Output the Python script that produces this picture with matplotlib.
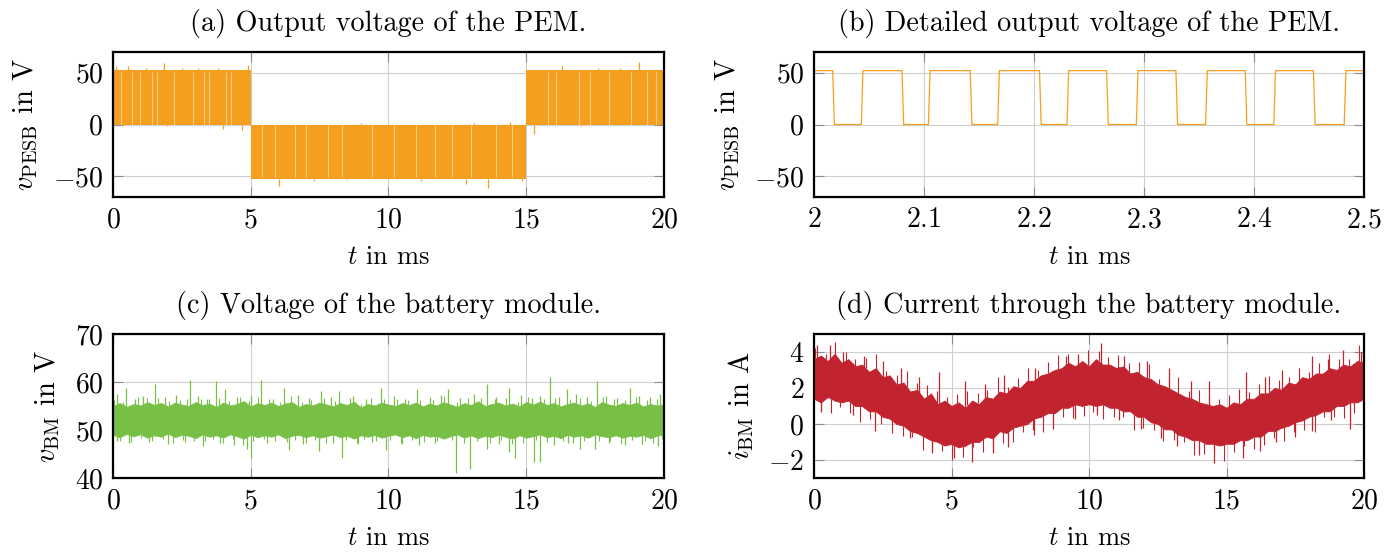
import numpy as np
import matplotlib.pyplot as plt

plt.rcParams['font.family'] = 'serif'
plt.rcParams['font.serif'] = ['cmr10']
plt.rcParams['mathtext.fontset'] = 'cm'
plt.rcParams['font.size'] = 20

ORANGE = '#f59f1f'
GREEN = '#78c045'
RED = '#c1232f'

# (a) output voltage of the PEM, 0..20 ms (polarity blocks)
pem_edges = [0, 5, 15, 20]
pem_level = [52.5, -52.5, 52.5]
pem_peak_t = [0.1, 0.55, 1.2, 1.87, 2.5, 3.1, 3.8, 4.9, 6.04, 7.3, 8.5, 11.2, 12.8, 13.6, 14.85, 16.3, 17.6, 18.4, 19.1]
pem_peak_v = [56.5, 56.0, 54.5, 59.0, 55.0, 54.5, 54.5, 57.0, -59.0, -54.5, -54.0, -54.5, -57.0, -61.0, -55.0, 56.5, 55.0, 54.5, 60.0]
pem_dip_t = [1.95, 3.98, 4.7, 9.0, 13.1, 14.4, 15.3, 17.0]
pem_dip_v = [-1.5, -4.8, -5.7, 1.2, 1.5, 2.5, -9.5, -1.5]
pem_gap_t = [0.3, 0.7, 1.0, 1.4, 1.6, 2.2, 2.9, 3.3, 3.5, 4.1, 4.3, 5.4, 5.9, 6.6, 7.0, 7.8, 8.3,
             9.4, 10.2, 11.0, 11.7, 12.3, 13.0, 13.9, 14.5, 15.8, 16.1, 16.9, 17.3, 18.0, 18.8, 19.4, 19.7]

# (b) detailed output voltage, 2..2.5 ms
det_fall = [2.017, 2.080, 2.142, 2.205, 2.266, 2.329, 2.392, 2.454]
det_rise = [2.043, 2.104, 2.167, 2.230, 2.293, 2.356, 2.418, 2.482]
det_high = 52.0
det_low = 0.0

# (c) battery module voltage: dense band edges (every 0.25 ms), spikes, small hairs
bat_hi = [55.0, 55.6, 54.8, 55.4, 55.1, 55.8, 55.2, 55.6, 54.9,
          55.7, 55.3, 55.0, 55.8, 55.2, 55.5, 54.8, 55.7, 55.1,
          55.4, 56.0, 54.9, 55.6, 55.2, 55.7, 55.0, 55.5, 55.8,
          54.8, 55.4, 55.1, 55.7, 55.3, 54.9, 55.6, 55.2, 55.9,
          54.7, 55.4, 55.1, 55.7, 55.3, 55.0, 55.6, 55.2, 55.7,
          54.9, 55.5, 55.1, 55.8, 55.3, 54.8, 55.6, 55.2, 56.0,
          55.0, 55.4, 55.7, 55.1, 55.5, 54.9, 55.8, 55.3, 55.9,
          55.2, 55.6, 54.9, 55.4, 55.7, 55.1, 55.5, 54.8, 55.8,
          55.3, 55.0, 55.6, 55.2, 55.7, 54.9, 55.4, 55.1, 55.3]
bat_lo = [49.0, 48.5, 49.2, 48.7, 49.1, 48.4, 48.9, 48.6, 49.3,
          48.5, 49.0, 48.8, 48.3, 49.1, 48.6, 48.9, 48.4, 49.1,
          48.7, 48.2, 49.0, 48.5, 48.9, 48.6, 49.1, 48.3, 48.8,
          49.0, 48.5, 48.9, 48.4, 48.7, 49.1, 48.5, 48.8, 48.2,
          48.9, 48.6, 49.0, 48.4, 48.8, 49.1, 48.5, 48.9, 48.3,
          49.0, 48.6, 48.8, 48.2, 48.7, 49.1, 48.4, 48.9, 48.3,
          48.8, 48.5, 49.0, 48.6, 48.2, 48.9, 48.4, 48.7, 49.1,
          48.5, 48.8, 48.3, 49.0, 48.6, 48.9, 48.4, 49.1, 48.7,
          48.5, 48.9, 48.4, 48.8, 48.6, 49.0, 48.3, 48.8, 49.1]
bat_up_t = [0.16, 0.49, 0.8, 1.1, 1.54, 1.9, 2.3, 2.79, 3.1, 3.4, 3.73, 4.06, 4.5, 5.0, 5.39, 5.8, 6.22,
            6.7, 7.1, 7.55, 7.9, 8.2, 8.7, 9.2, 9.74, 10.2, 10.6, 11.04, 11.5, 11.9, 12.18, 12.6, 13.1,
            13.56, 13.9, 14.37, 14.8, 15.2, 15.5, 15.86, 16.2, 16.48, 16.8, 17.2, 17.56, 17.9, 18.3,
            18.75, 19.1, 19.5, 19.85]
bat_up_v = [57.5, 58.7, 56.5, 57.0, 59.6, 56.8, 57.2, 60.4, 57.0, 56.5, 60.2, 58.5, 56.8, 57.0, 60.4,
            56.5, 58.7, 57.3, 56.6, 58.2, 56.9, 58.2, 57.0, 56.4, 58.8, 57.0, 56.5, 58.5, 56.8, 57.2,
            58.5, 56.6, 57.5, 59.6, 56.8, 58.7, 57.3, 56.7, 57.0, 61.1, 56.9, 58.5, 57.5, 56.8, 60.2,
            57.0, 56.6, 58.7, 57.1, 56.8, 57.4]
bat_dn_t = [0.16, 0.6, 1.3, 2.0, 2.6, 3.28, 3.9, 4.4, 4.87, 5.0, 5.6, 6.4, 6.9, 7.47, 8.0, 8.33, 8.9,
            9.4, 9.9, 10.5, 11.1, 11.7, 12.45, 12.95, 13.56, 14.0, 14.37, 14.6, 15.3, 15.5, 16.0, 16.5,
            16.95, 17.5, 18.0, 18.6, 19.2, 19.8]
bat_dn_v = [47.6, 47.2, 47.5, 47.0, 47.4, 46.6, 47.3, 46.9, 46.0, 44.1, 47.2, 45.9, 47.0, 45.7, 47.3,
            44.1, 47.0, 47.4, 45.9, 47.1, 46.8, 47.3, 41.0, 41.9, 46.0, 47.0, 45.4, 44.1, 43.4, 43.4,
            46.8, 47.2, 46.0, 46.0, 47.3, 46.9, 47.1, 46.6]
# (time in ms, excursion beyond the dense band in V)
bat_hairs = [(0.05, 1.2), (0.27, -0.9), (0.38, 0.7), (0.66, -1.4), (0.9, 1.6), (1.02, -0.8),
             (1.22, 0.9), (1.4, -1.1), (1.65, 1.3), (1.8, -0.7), (2.05, 1.0), (2.18, -1.5),
             (2.45, 0.8), (2.55, -1.0), (2.7, 1.4), (2.95, -0.8), (3.2, 1.1), (3.33, -1.3),
             (3.5, 0.9), (3.65, -0.7), (3.85, 1.5), (4.0, -1.2), (4.2, 0.8), (4.35, -0.9),
             (4.6, 1.2), (4.72, -1.4), (4.95, 0.9), (5.1, -1.1), (5.25, 1.3), (5.5, -0.8),
             (5.65, 1.0), (5.9, -1.3), (6.05, 0.7), (6.3, -0.9), (6.45, 1.4), (6.6, -1.0),
             (6.85, 0.8), (7.0, -1.2), (7.2, 1.1), (7.35, -0.8), (7.65, 1.3), (7.75, -1.5),
             (8.05, 0.9), (8.45, -0.9), (8.6, 1.2), (8.85, -1.1), (9.0, 0.8), (9.1, -0.7),
             (9.35, 1.4), (9.55, -1.2), (9.85, 1.0), (10.05, -0.9), (10.3, 1.3), (10.45, -1.3),
             (10.7, 0.9), (10.85, -0.8), (11.15, 1.1), (11.3, -1.4), (11.6, 0.8), (11.75, -1.0),
             (12.0, 1.2), (12.3, -0.9), (12.5, 1.0), (12.75, -1.2), (12.9, 1.4), (13.2, -0.8),
             (13.35, 1.1), (13.7, -1.3), (13.85, 0.9), (14.1, -1.0), (14.25, 1.5), (14.5, -1.2),
             (14.7, 0.8), (14.9, -1.4), (15.05, 1.2), (15.35, -0.9), (15.65, 1.0), (15.75, -1.1),
             (16.05, 1.3), (16.35, -0.8), (16.6, 0.9), (16.7, -1.3), (16.95, 1.4), (17.1, -1.0),
             (17.35, 0.8), (17.65, -1.2), (17.8, 1.1), (18.05, -0.9), (18.2, 1.3), (18.45, -1.4),
             (18.6, 0.9), (18.85, -0.8), (19.0, 1.2), (19.3, -1.1), (19.4, 1.0), (19.6, -1.3),
             (19.75, 1.4), (19.92, -0.9)]

# (d) battery module current: dense band edges (every 0.25 ms), spikes, small hairs
cur_hi = [3.6, 3.8, 3.5, 3.9, 3.4, 3.6, 3.2, 3.3, 2.9,
          3.1, 2.6, 2.7, 2.2, 2.3, 1.8, 1.9, 1.4, 1.7,
          1.1, 1.3, 1.0, 1.2, 0.9, 1.3, 1.1, 1.5, 1.4,
          1.8, 1.7, 2.1, 2.0, 2.4, 2.4, 2.7, 2.8, 3.0,
          3.1, 3.4, 3.2, 3.5, 3.2, 3.6, 3.3, 3.3, 3.1,
          3.2, 2.8, 2.9, 2.6, 2.5, 2.2, 2.1, 1.9, 1.7,
          1.5, 1.4, 1.2, 1.1, 1.0, 1.1, 0.9, 1.2, 1.1,
          1.4, 1.4, 1.7, 1.7, 2.0, 1.9, 2.3, 2.2, 2.6,
          2.5, 2.8, 2.8, 3.1, 3.0, 3.3, 3.2, 3.5, 3.4]
cur_lo = [1.4, 1.2, 1.5, 1.3, 1.2, 1.3, 1.0, 1.0, 0.7,
          0.7, 0.4, 0.3, 0.0, -0.1, -0.4, -0.5, -0.7, -0.9,
          -1.0, -1.2, -1.1, -1.3, -1.2, -1.0, -1.0, -0.7, -0.8,
          -0.4, -0.5, -0.2, -0.1, 0.0, 0.3, 0.4, 0.6, 0.6,
          0.9, 0.9, 1.1, 1.0, 1.1, 1.0, 1.1, 0.9, 0.9,
          0.7, 0.7, 0.4, 0.4, 0.1, 0.0, -0.3, -0.3, -0.6,
          -0.7, -0.9, -0.9, -1.1, -1.1, -1.2, -1.1, -1.1, -0.9,
          -0.9, -0.7, -0.7, -0.4, -0.4, -0.2, -0.1, 0.1, 0.2,
          0.4, 0.5, 0.7, 0.7, 1.0, 1.0, 1.2, 1.2, 1.4]
cur_up_t = [0.11, 0.57, 1.06, 1.83, 2.5, 3.17, 3.8, 4.55, 5.5, 6.2, 6.9, 8.04, 9.17, 9.6, 10.44, 11.28,
            12.1, 12.9, 13.7, 14.37, 15.7, 16.4, 17.0, 18.1, 18.7, 19.24, 19.9]
cur_up_v = [4.4, 4.4, 4.0, 3.8, 3.5, 3.1, 2.6, 2.9, 2.4, 2.2, 2.7, 3.1, 3.8, 3.9, 4.5, 3.8, 3.5, 3.1,
            2.4, 2.4, 2.9, 2.6, 3.0, 3.8, 3.6, 4.1, 4.0]
cur_dn_t = [0.24, 1.4, 2.2, 3.5, 4.3, 5.1, 5.76, 6.5, 7.06, 8.0, 8.7, 9.5, 10.3, 11.1, 11.9, 12.6, 13.2,
            14.0, 14.53, 15.6, 16.2, 16.8, 17.5, 18.1, 18.8, 19.5]
cur_dn_v = [0.65, 0.5, -0.4, -0.8, -1.6, -1.9, -2.1, -1.6, -1.3, -0.6, -0.3, 0.3, 0.5, 0.2, -0.3, -0.8,
            -1.2, -1.7, -2.15, -1.9, -1.5, -1.0, -0.7, -0.4, 0.2, -0.3]
# (time in ms, excursion beyond the dense band in A)
cur_hairs = [(0.05, 0.6), (0.25, -0.5), (0.42, 0.3), (0.63, -0.8), (0.78, 0.7), (0.95, -0.3),
             (1.15, 0.5), (1.32, -0.6), (1.5, 0.4), (1.68, -0.9), (1.88, 0.6), (2.05, -0.4),
             (2.27, 0.8), (2.44, -0.5), (2.6, 0.3), (2.83, -0.7), (3.0, 0.5), (3.22, -0.6),
             (3.38, 0.9), (3.56, -0.3), (3.74, 0.4), (3.95, -0.8), (4.12, 0.6), (4.3, -0.5),
             (4.48, 0.7), (4.66, -0.4), (4.85, 0.3), (5.03, -0.9), (5.2, 0.5), (5.4, -0.6),
             (5.58, 0.8), (5.77, -0.3), (5.95, 0.6), (6.13, -0.7), (6.3, 0.4), (6.52, -0.5),
             (6.7, 0.9), (6.86, -0.6), (7.05, 0.3), (7.25, -0.8), (7.42, 0.5), (7.6, -0.4),
             (7.78, 0.7), (7.97, -0.6), (8.15, 0.4), (8.33, -0.9), (8.52, 0.6), (8.7, -0.3),
             (8.88, 0.8), (9.05, -0.5), (9.25, 0.5), (9.43, -0.7), (9.6, 0.3), (9.8, -0.6),
             (9.98, 0.9), (10.15, -0.4), (10.35, 0.6), (10.52, -0.8), (10.7, 0.4), (10.9, -0.5),
             (11.07, 0.7), (11.25, -0.3), (11.45, 0.5), (11.62, -0.9), (11.8, 0.6), (11.97, -0.6),
             (12.17, 0.8), (12.35, -0.4), (12.53, 0.3), (12.7, -0.7), (12.9, 0.6), (13.08, -0.5),
             (13.25, 0.9), (13.45, -0.3), (13.62, 0.4), (13.8, -0.8), (14.0, 0.7), (14.18, -0.6),
             (14.35, 0.5), (14.55, -0.4), (14.72, 0.3), (14.9, -0.9), (15.1, 0.6), (15.27, -0.5),
             (15.45, 0.8), (15.63, -0.3), (15.82, 0.4), (16.0, -0.7), (16.18, 0.6), (16.37, -0.6),
             (16.55, 0.9), (16.72, -0.4), (16.9, 0.5), (17.1, -0.8), (17.28, 0.3), (17.45, -0.5),
             (17.63, 0.7), (17.82, -0.6), (18.0, 0.4), (18.2, -0.9), (18.38, 0.6), (18.55, -0.3),
             (18.73, 0.8), (18.92, -0.5), (19.1, 0.5), (19.28, -0.7), (19.47, 0.4), (19.65, -0.6),
             (19.83, 0.9), (19.97, -0.4)]


def style(ax, xlim, xticks, xlabels, ylim, yticks, title, ylabel):
    ax.set_xlim(*xlim)
    ax.set_ylim(*ylim)
    ax.set_xticks(xticks, xlabels)
    ax.set_yticks(yticks, [r'$%g$' % v for v in yticks])
    ax.grid(True, color='#cfcfcf', linewidth=0.8)
    ax.set_axisbelow(True)
    ax.tick_params(direction='in', length=7, width=0.8, color='#8c8c8c',
                   top=True, right=True, pad=7, labelsize=20)
    for s in ax.spines.values():
        s.set_linewidth(1.6)
    ax.set_title(title, pad=15, fontsize=20.3)
    ax.set_xlabel(r'$t$ in ms', labelpad=9, fontsize=19)
    ax.set_ylabel(ylabel, labelpad=9, fontsize=20.5)


def hairs(ax, pairs, t_grid, lo, hi, color):
    ht, hdv = np.array(pairs).T
    base = np.where(hdv > 0, np.interp(ht, t_grid, hi), np.interp(ht, t_grid, lo))
    ax.vlines(ht, base, base + hdv, color=color, linewidth=0.8)


fig = plt.figure(figsize=(13.96, 5.52), dpi=100)
ax_a = fig.add_axes([0.0809, 0.6431, 0.3947, 0.2627])
ax_b = fig.add_axes([0.5831, 0.6431, 0.3940, 0.2627])
ax_c = fig.add_axes([0.0809, 0.1341, 0.3947, 0.2609])
ax_d = fig.add_axes([0.5831, 0.1341, 0.3940, 0.2609])

ms_ticks = [0, 5, 10, 15, 20]
ms_labels = [r'$%d$' % v for v in ms_ticks]

# (a)
blk = np.digitize(pem_peak_t, pem_edges) - 1
ax_a.fill_between(pem_edges, 0, pem_level + [pem_level[-1]], step='post',
                  color=ORANGE, linewidth=0)
ax_a.vlines(pem_peak_t, np.array(pem_level)[blk], pem_peak_v, color=ORANGE, linewidth=0.9)
ax_a.vlines(pem_dip_t, 0, pem_dip_v, color=ORANGE, linewidth=0.9)
gblk = np.digitize(pem_gap_t, pem_edges) - 1
ax_a.vlines(pem_gap_t, 0, np.array(pem_level)[gblk] * 0.97, color='white', alpha=0.45, linewidth=0.8)
style(ax_a, (0, 20), ms_ticks, ms_labels, (-70, 70), [-50, 0, 50],
      '(a) Output voltage of the PEM.', r'$v_{\mathrm{PESB}}$ in V')

# (b)
xb, yb = [2.0], [det_high]
for f, r in zip(det_fall, det_rise):
    xb += [f, f + 0.0015, r, r + 0.0015]
    yb += [det_high, det_low, det_low, det_high]
xb.append(2.5)
yb.append(det_high)
ax_b.plot(xb, yb, color=ORANGE, linewidth=0.9)
b_ticks = [2.0, 2.1, 2.2, 2.3, 2.4, 2.5]
style(ax_b, (2, 2.5), b_ticks, [r'$%g$' % v for v in b_ticks], (-70, 70), [-50, 0, 50],
      '(b) Detailed output voltage of the PEM.', r'$v_{\mathrm{PESB}}$ in V')

# (c)
tc = np.linspace(0, 20, len(bat_hi))
ax_c.fill_between(tc, bat_lo, bat_hi, color=GREEN, linewidth=0.6, edgecolor=GREEN)
ax_c.vlines(bat_up_t, 52, bat_up_v, color=GREEN, linewidth=0.9)
ax_c.vlines(bat_dn_t, 52, bat_dn_v, color=GREEN, linewidth=0.9)
hairs(ax_c, bat_hairs, tc, bat_lo, bat_hi, GREEN)
style(ax_c, (0, 20), ms_ticks, ms_labels, (40, 70), [40, 50, 60, 70],
      '(c) Voltage of the battery module.', r'$v_{\mathrm{BM}}$ in V')

# (d)
td = np.linspace(0, 20, len(cur_hi))
ax_d.fill_between(td, cur_lo, cur_hi, color=RED, linewidth=0.6, edgecolor=RED)
ax_d.vlines(cur_up_t, np.interp(cur_up_t, td, cur_lo), cur_up_v, color=RED, linewidth=0.9)
ax_d.vlines(cur_dn_t, np.interp(cur_dn_t, td, cur_hi), cur_dn_v, color=RED, linewidth=0.9)
hairs(ax_d, cur_hairs, td, cur_lo, cur_hi, RED)
style(ax_d, (0, 20), ms_ticks, ms_labels, (-3, 5), [-2, 0, 2, 4],
      '(d) Current through the battery module.', r'$i_{\mathrm{BM}}$ in A')

fig.savefig('out.png', dpi=100)
